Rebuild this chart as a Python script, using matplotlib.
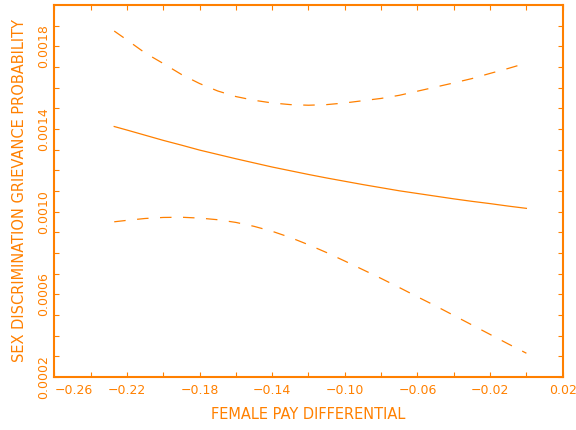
import matplotlib
matplotlib.use("Agg")
import matplotlib.pyplot as plt
from matplotlib.ticker import FixedLocator

# values
pay_diff = [-0.227, -0.22, -0.21, -0.20, -0.19, -0.18, -0.17, -0.16, -0.15, -0.14,
            -0.13, -0.12, -0.11, -0.10, -0.09, -0.08, -0.07, -0.06, -0.05, -0.04,
            -0.03, -0.02, -0.01, 0.0]
prob = [0.001412, 0.001395, 0.001370, 0.001345, 0.001322, 0.001298, 0.001277, 0.001256,
        0.001236, 0.001216, 0.001198, 0.001180, 0.001163, 0.001147, 0.001131, 0.001116,
        0.001101, 0.001088, 0.001075, 0.001062, 0.001050, 0.001039, 0.001027, 0.001016]
upper = [0.001874, 0.001831, 0.001768, 0.001717, 0.001664, 0.001620, 0.001584, 0.001557,
         0.001539, 0.001526, 0.001518, 0.001515, 0.001518, 0.001526, 0.001537, 0.001548,
         0.001563, 0.001583, 0.001603, 0.001623, 0.001644, 0.001669, 0.001693, 0.001719]
lower = [0.000951, 0.000958, 0.000967, 0.000972, 0.000973, 0.000969, 0.000961, 0.000948,
         0.000929, 0.000905, 0.000875, 0.000840, 0.000802, 0.000761, 0.000719, 0.000677,
         0.000633, 0.000588, 0.000544, 0.000498, 0.000452, 0.000406, 0.000360, 0.000315]

xticks_major = [-0.26, -0.22, -0.18, -0.14, -0.10, -0.06, -0.02, 0.02]
xticks_minor = [-0.24, -0.20, -0.16, -0.12, -0.08, -0.04, 0.00]
yticks_major = [0.0002, 0.0006, 0.0010, 0.0014, 0.0018]
yticks_minor = [0.0003, 0.0004, 0.0005, 0.0007, 0.0008, 0.0009, 0.0011, 0.0012,
                0.0013, 0.0015, 0.0016, 0.0017, 0.0019]

orange = '#ff8000'

fig = plt.figure(figsize=(5.76, 4.30), dpi=100)
ax = fig.add_axes([54.3 / 576, 1 - 377 / 430, 508.4 / 576, 372 / 430])

ax.plot(pay_diff, prob, color=orange, lw=0.9)
ax.plot(pay_diff, upper, color=orange, lw=0.9, dashes=(9.2, 9.2))
ax.plot(pay_diff, lower, color=orange, lw=0.9, dashes=(9.2, 9.2))

ax.set_xlim(-0.26, 0.02)
ax.set_ylim(0.0002, 0.0020)

ax.xaxis.set_major_locator(FixedLocator(xticks_major))
ax.xaxis.set_minor_locator(FixedLocator(xticks_minor))
ax.yaxis.set_major_locator(FixedLocator(yticks_major))
ax.yaxis.set_minor_locator(FixedLocator(yticks_minor))
ax.set_xticklabels([('%.2f' % v).replace('-', '\u2212') for v in xticks_major])
ax.set_yticklabels(['%.4f' % v for v in yticks_major])

for s in ax.spines.values():
    s.set_color(orange)
    s.set_linewidth(1.5)

ax.tick_params(which='both', direction='in', length=3.5, width=0.8, color=orange,
               top=True, right=True, labelcolor=orange, labelsize=9)
ax.tick_params(axis='x', pad=5)
ax.tick_params(axis='y', pad=3, labelrotation=90)
for lab in ax.get_yticklabels():
    lab.set_va('center')
ax.get_xticklabels()[0].set_ha('left')

ax.set_xlabel('FEMALE PAY DIFFERENTIAL', color=orange, fontsize=10.5)
ax.set_ylabel('SEX DISCRIMINATION GRIEVANCE PROBABILITY', color=orange, fontsize=10.5)
ax.xaxis.set_label_coords(0.5, -0.101)
ax.xaxis.label.set_va('center')
ax.yaxis.set_label_coords(-0.0685, 0.5)
ax.yaxis.label.set_va('center')

fig.savefig('out.png', dpi=100)
